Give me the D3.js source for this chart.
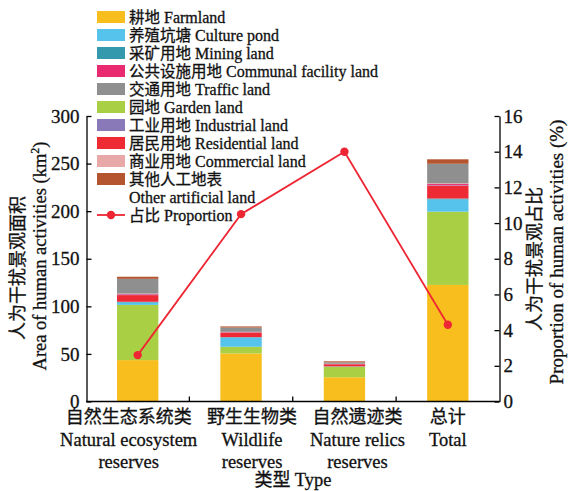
<!DOCTYPE html>
<html>
<head>
<meta charset="utf-8">
<script src="https://cdn.jsdelivr.net/npm/d3@7/dist/d3.min.js"></script>
<style>
  html, body { margin: 0; padding: 0; background: #fff; }
  svg { display: block; }
  svg text { stroke: #111; stroke-width: 0.3px; }
</style>
</head>
<body>
<svg id="chart" width="572" height="491"></svg>
<script>
// Reserve types (Chinese / English lines)
const categoriesZh = ["自然生态系统类", "野生生物类", "自然遗迹类", "总计"];
const categoriesEn = [["Natural ecosystem", "reserves"], ["Wildlife", "reserves"], ["Nature relics", "reserves"], ["Total"]];

// Land-use types, in legend order
const landTypesZh = ["耕地", "养殖坑塘", "采矿用地", "公共设施用地", "交通用地", "园地", "工业用地", "居民用地", "商业用地", "其他人工地表"];
const landTypesEn = ["Farmland", "Culture pond", "Mining land", "Communal facility land", "Traffic land", "Garden land", "Industrial land", "Residential land", "Commercial land", "Other artificial land"];
const landColors = ["#F8BE1E", "#56C3EC", "#3599AD", "#E92A70", "#8F8F8F", "#A9D045", "#8A79B8", "#EE2A35", "#E8A8A7", "#B4552F"];

// Area of human activities (km²) per land type, one value per reserve type
const farmland    = [43.5, 50.5, 25.5, 122.5];
const culturePond = [2.5, 9.8, 0.3, 12.8];
const miningLand  = [0.8, 0.3, 0.1, 1.0];
const communal    = [0.6, 0.3, 0.2, 1.2];
const trafficLand = [15.5, 4.5, 1.5, 20.5];
const gardenLand  = [58.0, 7.0, 11.0, 77.0];
const industrial  = [0.5, 0.2, 0.1, 0.5];
const residential = [7.0, 4.8, 2.2, 13.5];
const commercial  = [0.5, 0.3, 0.3, 0.8];
const otherLand   = [2.2, 1.2, 1.0, 4.7];

// Share of human-activity landscape (%)
const proportion = [2.6, 10.5, 14.0, 4.3];

// Tick values
const leftTicks = [0, 50, 100, 150, 200, 250, 300];
const rightTicks = [0, 2, 4, 6, 8, 10, 12, 14, 16];

const seriesValues = [farmland, culturePond, miningLand, communal, trafficLand, gardenLand, industrial, residential, commercial, otherLand];
// Order in which the layers are stacked, bottom to top (indices into legend order)
const stackOrder = [0, 5, 1, 2, 7, 6, 3, 8, 4, 9];

const svg = d3.select("#chart");
const serif = '"Liberation Serif", "DejaVu Serif", serif';
const cjk = '"Noto Sans CJK SC", sans-serif';

const x = d3.scaleBand().domain(d3.range(categoriesZh.length)).range([86, 499.5]).padding(0);
const y = d3.scaleLinear().domain([0, 300]).range([401.5, 116]);
const yR = d3.scaleLinear().domain([0, 16]).range([401.5, 116]);
const barW = x.bandwidth() * 0.4;
// category captions sit slightly off the bar centres
const labelShift = [-9, 11, 13, 0];

// stacked table
const rows = d3.range(categoriesZh.length).map(i => {
  const r = { idx: i };
  landTypesEn.forEach((k, j) => r[k] = seriesValues[j][i]);
  return r;
});
const stack = d3.stack().keys(stackOrder.map(j => landTypesEn[j]));
const layers = stack(rows);

const gBars = svg.append("g");
layers.forEach(layer => {
  const color = landColors[landTypesEn.indexOf(layer.key)];
  gBars.selectAll(null).data(layer).join("rect")
    .attr("x", d => x(d.data.idx) + (x.bandwidth() - barW) / 2)
    .attr("width", barW)
    .attr("y", d => y(d[1]))
    .attr("height", d => y(d[0]) - y(d[1]))
    .attr("fill", color);
});

// Axes
const axisStyle = g => {
  g.selectAll("path, line").attr("stroke", "#000").attr("stroke-width", 1.3);
  g.selectAll("text").attr("font-family", serif).attr("font-size", 19).attr("fill", "#111");
};

svg.append("g").attr("transform", "translate(86.5,0)")
  .call(d3.axisLeft(y).tickValues(leftTicks).tickSizeInner(-5).tickSizeOuter(0).tickPadding(7))
  .call(axisStyle);

svg.append("g").attr("transform", "translate(499.5,0)")
  .call(d3.axisRight(yR).tickValues(rightTicks).tickSizeInner(-5).tickSizeOuter(0).tickPadding(4))
  .call(axisStyle);

const gx = svg.append("g").attr("transform", "translate(0,401.5)");
gx.append("line").attr("x1", 86).attr("x2", 499.5).attr("stroke", "#000").attr("stroke-width", 1.3);
gx.selectAll("line.sep").data(d3.range(1, categoriesZh.length)).join("line")
  .attr("class", "sep")
  .attr("x1", d => x(d)).attr("x2", d => x(d))
  .attr("y1", 0).attr("y2", -5)
  .attr("stroke", "#000").attr("stroke-width", 1.3);

// Category labels
const gLab = svg.append("g");
categoriesZh.forEach((c, i) => {
  const cx = x(i) + x.bandwidth() / 2 + labelShift[i];
  gLab.append("text").attr("x", cx).attr("y", 423).attr("text-anchor", "middle")
    .attr("font-family", cjk).attr("font-size", 18).attr("fill", "#111").text(c);
  categoriesEn[i].forEach((t, k) => {
    gLab.append("text").attr("x", cx).attr("y", 446 + k * 22).attr("text-anchor", "middle")
      .attr("font-family", serif).attr("font-size", 18.5).attr("fill", "#111").text(t);
  });
});

// X axis title
const xt = svg.append("text").attr("x", 293).attr("y", 486).attr("text-anchor", "middle").attr("fill", "#111");
xt.append("tspan").attr("font-family", cjk).attr("font-size", 18).text("类型 ");
xt.append("tspan").attr("font-family", serif).attr("font-size", 18.5).text("Type");

// Y axis titles
svg.append("text").attr("transform", "translate(24,268) rotate(-90)").attr("text-anchor", "middle")
  .attr("font-family", cjk).attr("font-size", 18).attr("fill", "#111").text("人为干扰景观面积");
const yl = svg.append("text").attr("transform", "translate(46,256) rotate(-90)").attr("text-anchor", "middle")
  .attr("font-family", serif).attr("font-size", 18.5).attr("fill", "#111");
yl.append("tspan").text("Area of human activities (km");
yl.append("tspan").attr("font-size", 12).attr("dy", -7).text("2");
yl.append("tspan").attr("dy", 7).text(")");

svg.append("text").attr("transform", "translate(541,259) rotate(-90)").attr("text-anchor", "middle")
  .attr("font-family", cjk).attr("font-size", 18).attr("fill", "#111").text("人为干扰景观占比");
svg.append("text").attr("transform", "translate(563,252) rotate(-90)").attr("text-anchor", "middle")
  .attr("font-family", serif).attr("font-size", 19).attr("fill", "#111").text("Proportion of human activities (%)");

// Proportion line
const lineColor = "#EE2633";
const line = d3.line().x((d, i) => x(i) + x.bandwidth() / 2).y(d => yR(d));
svg.append("path").datum(proportion).attr("d", line)
  .attr("fill", "none").attr("stroke", lineColor).attr("stroke-width", 1.8);
svg.selectAll("circle.pt").data(proportion).join("circle").attr("class", "pt")
  .attr("cx", (d, i) => x(i) + x.bandwidth() / 2).attr("cy", d => yR(d)).attr("r", 4.2)
  .attr("fill", lineColor);

// Legend
const lg = svg.append("g").attr("transform", "translate(97,0)");
const rowH = 18;
landTypesEn.forEach((en, j) => {
  const cy = 17 + j * rowH;
  lg.append("rect").attr("x", 0).attr("y", cy - 6).attr("width", 28).attr("height", 12).attr("fill", landColors[j]);
  const t = lg.append("text").attr("x", 32).attr("y", cy + 5.5).attr("fill", "#111");
  t.append("tspan").attr("font-family", cjk).attr("font-size", 15.5).text(landTypesZh[j]);
  if (j < landTypesEn.length - 1) {
    t.append("tspan").attr("font-family", serif).attr("font-size", 16).text(" " + en);
  } else {
    lg.append("text").attr("x", 32).attr("y", cy + rowH + 5.5).attr("fill", "#111")
      .attr("font-family", serif).attr("font-size", 16).text(en);
  }
});
{
  const cy = 17 + 11 * rowH;
  lg.append("line").attr("x1", 0).attr("x2", 28).attr("y1", cy).attr("y2", cy)
    .attr("stroke", lineColor).attr("stroke-width", 1.8);
  lg.append("circle").attr("cx", 14).attr("cy", cy).attr("r", 4.2).attr("fill", lineColor);
  const t = lg.append("text").attr("x", 32).attr("y", cy + 5.5).attr("fill", "#111");
  t.append("tspan").attr("font-family", cjk).attr("font-size", 15.5).text("占比");
  t.append("tspan").attr("font-family", serif).attr("font-size", 16).text(" Proportion");
}
</script>
</body>
</html>
